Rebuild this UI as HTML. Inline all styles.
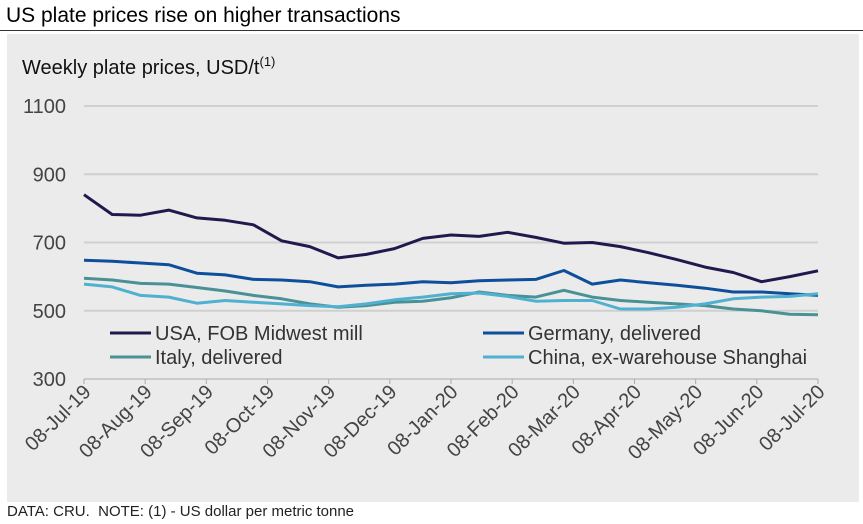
<!DOCTYPE html>
<html><head><meta charset="utf-8"><style>
body{margin:0;background:#fff;font-family:"Liberation Sans",Arial,sans-serif;}
</style></head><body>
<div style="position:relative;width:863px;height:524px;overflow:hidden">
<div style="position:absolute;left:6px;top:4px;font-size:21px;color:#000">US plate prices rise on higher transactions</div>
<div style="position:absolute;left:0;top:30px;width:863px;height:1px;background:#333"></div>
<div style="position:absolute;left:7px;top:34px;width:852px;height:468px;background:#ebebeb"></div>
<div style="position:absolute;left:7px;top:503px;font-size:15px;color:#222">DATA: CRU.&nbsp; NOTE: (1) - US dollar per metric tonne</div>
<svg id="c" width="863" height="524" style="position:absolute;left:0;top:0"></svg>
</div>
<script>
const yTicks=[300,500,700,900,1100];
const xLabels=["08-Jul-19","08-Aug-19","08-Sep-19","08-Oct-19","08-Nov-19","08-Dec-19","08-Jan-20","08-Feb-20","08-Mar-20","08-Apr-20","08-May-20","08-Jun-20","08-Jul-20"];
const seriesNames=["USA, FOB Midwest mill","Germany, delivered","Italy, delivered","China, ex-warehouse Shanghai"];
const usa=[840,782,780,795,772,765,752,705,688,655,665,682,712,722,718,730,715,698,700,688,670,650,628,612,585,600,617];
const germany=[648,645,640,635,610,605,592,590,585,570,575,578,585,582,588,590,592,618,578,590,582,575,566,555,555,550,545];
const italy=[595,590,580,578,568,558,545,535,520,510,515,525,528,538,555,545,540,560,540,530,525,520,515,505,500,490,488];
const china=[578,570,545,540,522,530,525,520,515,512,520,532,540,550,552,542,528,530,530,505,505,510,520,535,540,542,550];
const colors=["#1f1a4d","#0d4f9a","#4a9196","#4fb0d0"];
const svg=document.getElementById('c');const NS='http://www.w3.org/2000/svg';
const X0=84,X1=818,Y300=379,PPU=68.25/200;
const y=v=>Y300-(v-300)*PPU;
const xi=(i,n)=>X0+(X1-X0)*i/(n-1);
function mk(t,a){const e=document.createElementNS(NS,t);for(const k in a)e.setAttribute(k,a[k]);svg.appendChild(e);return e;}
yTicks.forEach(v=>{
 if(v>300){const g=mk('line',{x1:X0,x2:X1,y1:y(v),y2:y(v),stroke:'#d0d0d0','stroke-width':2});
 
 }
 const t=mk('text',{x:66,y:y(v)+7,'text-anchor':'end','font-size':20,fill:'#444'});t.textContent=v;
 
 
});
const ax=mk('line',{x1:X0,x2:X1,y1:Y300,y2:Y300,stroke:'#aaa','stroke-width':1});


xLabels.forEach((l,i)=>{
 const x=xi(i,xLabels.length);
 const tk=mk('line',{x1:x,x2:x,y1:Y300,y2:Y300+5,stroke:'#aaa'});
 
 
 const t=mk('text',{x:x+8,y:Y300+14,'text-anchor':'end','font-size':20,fill:'#444',transform:`rotate(-45 ${x+8} ${Y300+14})`});t.textContent=l;
 
 
});
const yl=mk('text',{x:22,y:74,'font-size':20,fill:'#111'});yl.innerHTML='Weekly plate prices, USD/t<tspan font-size="13" dy="-8">(1)</tspan>';


[usa,germany,italy,china].forEach((s,k)=>{
 const d=s.map((v,i)=>(i?'L':'M')+xi(i,s.length).toFixed(1)+','+y(v).toFixed(1)).join(' ');
 const p=mk('path',{d:d,fill:'none',stroke:colors[k],'stroke-width':3,'stroke-linejoin':'round'});
 
 
});
const lp=[[110,333],[483,333],[110,357],[483,357]];
seriesNames.forEach((n,k)=>{
 const [lx,ly]=lp[k];
 const sw=mk('line',{x1:lx,x2:lx+41,y1:ly,y2:ly,stroke:colors[k],'stroke-width':3});
 
 
 const t=mk('text',{x:lx+45,y:ly+7,'font-size':20,fill:'#333'});t.textContent=n;
 
 
});
</script>
</body></html>
